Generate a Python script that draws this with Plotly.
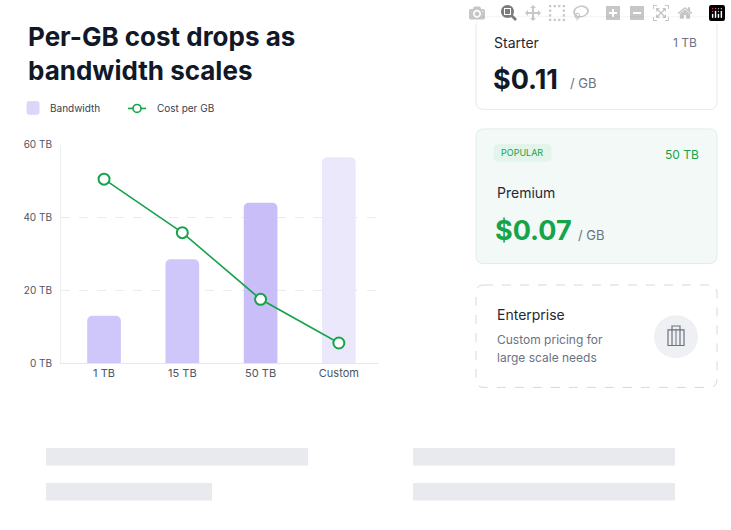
import plotly.graph_objects as go

categories = ["1 TB", "15 TB", "50 TB", "Custom"]
bandwidth_tb = [13, 28.5, 44, 56.5]
cost_line = [50.5, 35.8, 17.5, 5.5]
y_ticks = [0, 20, 40, 60]
y_tick_labels = ["0 TB", "20 TB", "40 TB", "60 TB"]

W, H = 731, 530
def px(x): return x / W
def py(y): return 1 - y / H

fig = go.Figure()
fig.add_bar(x=categories, y=bandwidth_tb, width=0.43,
            marker=dict(color=["#cfc6fa", "#cfc6fa", "#c9bef8", "#ece8fc"], line=dict(width=0),
                        cornerradius=5), showlegend=False)
fig.add_scatter(x=categories, y=cost_line, mode="lines+markers",
                line=dict(color="#16a34a", width=1.6),
                marker=dict(size=11, color="white", line=dict(color="#16a34a", width=2)),
                showlegend=False)

shapes = []
def rrect(x0, y0, x1, y1, r, fill, line, dash="solid", lw=1):
    X0, X1 = px(x0), px(x1); Y0, Y1 = py(y0), py(y1)
    rx, ry = r / W, r / H
    path = (f"M {X0+rx},{Y0} L {X1-rx},{Y0} Q {X1},{Y0} {X1},{Y0-ry} L {X1},{Y1+ry} "
            f"Q {X1},{Y1} {X1-rx},{Y1} L {X0+rx},{Y1} Q {X0},{Y1} {X0},{Y1+ry} "
            f"L {X0},{Y0-ry} Q {X0},{Y0} {X0+rx},{Y0} Z")
    shapes.append(dict(type="path", path=path, xref="paper", yref="paper",
                       fillcolor=fill, line=dict(color=line, width=lw, dash=dash), layer="below"))

rrect(476, 10, 717, 105, 8, "white", "#e8e9ee")
rrect(476, 125, 717, 263, 8, "#f3f9f7", "#dcefe6")
rrect(476, 285, 717, 390, 8, "white", "#d6d8de", dash="dash")
rrect(494, 141, 551, 158, 4, "#e3f4ea", "#e3f4ea")
rrect(27, 97, 39, 110, 2, "#ddd6fb", "#ddd6fb")
for (a, b, c, d) in [(46, 452, 308, 470), (46, 488, 212, 506), (413, 452, 675, 470), (413, 488, 675, 506)]:
    shapes.append(dict(type="rect", xref="paper", yref="paper", x0=px(a), x1=px(c), y0=py(b), y1=py(d),
                       fillcolor="#e9eaee", line=dict(width=0)))
shapes.append(dict(type="line", xref="paper", yref="paper", x0=px(128), x1=px(146), y0=py(104), y1=py(104),
                   line=dict(color="#16a34a", width=1.6)))
shapes.append(dict(type="circle", xref="paper", yref="paper", x0=px(133), x1=px(141), y0=py(100), y1=py(108),
                   fillcolor="white", line=dict(color="#16a34a", width=1.6)))
shapes.append(dict(type="circle", xref="paper", yref="paper", x0=px(654), x1=px(698), y0=py(316), y1=py(360),
                   fillcolor="#eff0f3", line=dict(width=0)))
ic = "#6b7280"
for (a, b, c, d) in [(668, 331, 684, 347), (672, 327, 680, 347)]:
    shapes.append(dict(type="rect", xref="paper", yref="paper", x0=px(a), x1=px(c), y0=py(b), y1=py(d),
                       fillcolor="rgba(0,0,0,0)", line=dict(color=ic, width=1.2)))
shapes.append(dict(type="line", xref="paper", yref="paper", x0=px(676), x1=px(676), y0=py(330), y1=py(347),
                   line=dict(color=ic, width=1)))

F = "Inter"
ann = []
def t(x, y, s, size, color, anchor="left", weight=None, fam=F):
    txt = f"<b>{s}</b>" if weight else s
    ann.append(dict(x=px(x), y=py(y), xref="paper", yref="paper", text=txt, showarrow=False,
                    xanchor=anchor, yanchor="middle", font=dict(size=size, color=color, family=fam)))
t(26, 30, "Per-GB cost drops as", 26, "#111827", weight=True)
t(26, 65, "bandwidth scales", 26, "#111827", weight=True)
t(48, 104, "Bandwidth", 10, "#374151")
t(155, 104, "Cost per GB", 10, "#374151")
t(492, 36, "Starter", 14, "#1f2937")
t(699, 36, "1 TB", 12, "#6b7280", anchor="right")
t(491, 74, "$0.11", 27, "#111827", weight=True)
t(568, 78, "/ GB", 13, "#6b7280")
t(522, 149, "POPULAR", 9, "#16a34a", anchor="center")
t(701, 151, "50 TB", 12, "#16a34a", anchor="right")
t(495, 190, "Premium", 14, "#1f2937")
t(493, 229, "$0.07", 27, "#16a34a", weight=True)
t(576, 234, "/ GB", 13, "#6b7280")
t(495, 315, "Enterprise", 14, "#1f2937")
t(495, 341, "Custom pricing for", 12, "#6b7280")
t(495, 359, "large scale needs", 12, "#6b7280")

fig.update_layout(
    width=W, height=H, margin=dict(l=0, r=0, t=0, b=0), paper_bgcolor="white", plot_bgcolor="white",
    shapes=shapes, annotations=ann, bargap=0.5, font=dict(family=F),
    xaxis=dict(domain=[px(61), px(378)], range=[-0.55, 3.5], showgrid=False, showline=True,
               linecolor="#e5e7eb", ticks="", tickfont=dict(size=11, color="#4b5563")),
    yaxis=dict(domain=[py(365), py(141)], range=[0, 60], tickvals=y_ticks, ticktext=y_tick_labels,
               gridcolor="#ececf0", griddash="dash", zeroline=False, showline=True, linecolor="#eeeef2",
               tickfont=dict(size=10, color="#4b5563"), ticks="", ticklabelstandoff=6),
)
fig.write_html("out.html")
with open("out.html", encoding="utf-8") as f:
    html = f.read()
html = html.replace("<head>", "<head><style>html,body{margin:0;padding:0;overflow:hidden}</style>", 1)
with open("out.html", "w", encoding="utf-8") as f:
    f.write(html)
